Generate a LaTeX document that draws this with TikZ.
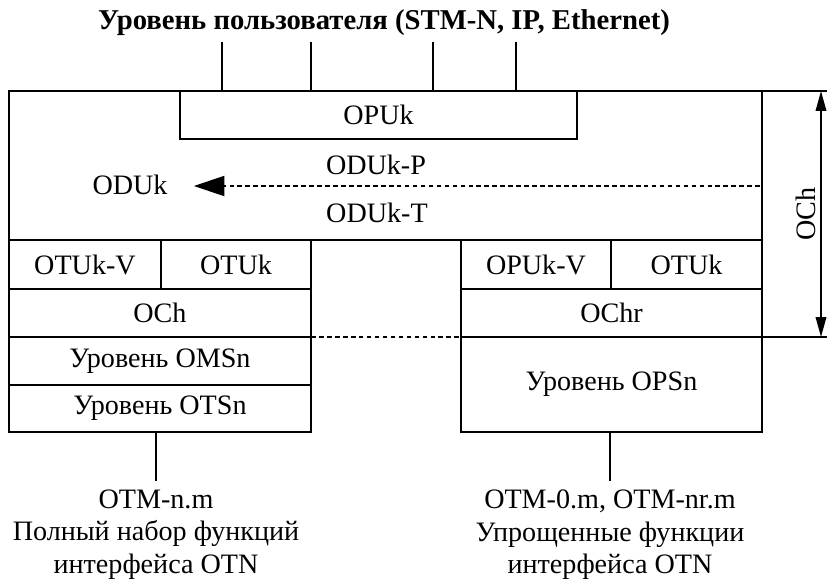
\documentclass[tikz,border=0pt]{standalone}
\usepackage{fontspec}
\setmainfont{Liberation Serif}
\usetikzlibrary{arrows.meta, positioning}
\tikzset{
    cell/.style 2 args={draw, line width=1.8pt, inner sep=0pt, outer sep=0pt, anchor=north west,
        minimum width=#1*0.03cm, minimum height=#2*0.03cm},
    wire/.style={line width=1.8pt},
    dotline/.style={line width=2pt, dash pattern=on 4pt off 2.8pt},
    txt/.style={font=\fontsize{24}{27.5}\selectfont}
}

\begin{document}
\begin{tikzpicture}[x=0.03cm, y=-0.03cm, every node/.style={txt}]
    \useasboundingbox (0,0) rectangle (827,585);
    % title and client ports
    \node[font=\fontsize{24.5}{27.5}\selectfont\bfseries, anchor=base] (user) at (384,29) {Уровень пользователя (STM-N, IP, Ethernet)};
    % upper block
    \node[cell={753}{149}] (oduk) at (9,91) {};
    \node[cell={397}{48}] (opuk) at (180,91) {OPUk};
    \foreach \x in {222,311,433,516}
        \draw[wire, shorten <=2pt] (\x,0 |- user.south) -- (\x,0 |- opuk.north);
    \node[anchor=base] (odukp) at (376,174) {ODUk-P};
    \node[anchor=base] (oduktxt) at (130,194) {ODUk};
    \node[anchor=base] (odukt) at (377,222) {ODUk-T};
    \coordinate (odsrc) at (760,186);
    \draw[dotline, -{Triangle[length=26pt, width=17pt]}, shorten >=19pt] (odsrc) -- (oduktxt.east |- odsrc);
    % left stack
    \node[cell={152}{49}] (otukv) at (9,240) {OTUk-V};
    \node[cell={150}{49}] (otukl) at (161,240) {OTUk};
    \node[cell={302}{48}] (ochl) at (9,289) {OCh};
    \node[cell={302}{48}] (omsn) at (9,337) {Уровень OMSn};
    \node[cell={302}{47}] (otsn) at (9,385) {Уровень OTSn};
    % right stack
    \node[cell={150}{49}] (opukv) at (461,240) {OPUk-V};
    \node[cell={151}{49}] (otukr) at (611,240) {OTUk};
    \node[cell={301}{48}] (ochr) at (461,289) {OChr};
    \node[cell={301}{95}] (opsn) at (461,337) {Уровень OPSn};
    \draw[dotline] (ochl.south east) -- (ochr.south west);
    % OCh span
    \draw[wire] (oduk.north east) -- ++(65,0);
    \draw[wire] (ochr.south east) -- ++(65,0);
    \coordinate (dimtop) at (821,91);
    \coordinate (dimbot) at (821,337);
    \draw[line width=1.4pt, {Triangle[length=17pt, width=9pt]}-{Triangle[length=17pt, width=9pt]}] (dimtop) -- node[midway, rotate=90, anchor=south, inner sep=4pt] (ochdim) {OCh} (dimbot);
    % interfaces
    \node[align=center, anchor=north] (otmn) at (156,486) {OTM-n.m\\Полный набор функций\\интерфейса OTN};
    \node[align=center, anchor=north] (otmr) at (610,486) {OTM-0.m, OTM-nr.m\\Упрощенные функции\\интерфейса OTN};
    \draw[wire, shorten >=4pt] (otsn.south -| otmn.north) -- (otmn.north);
    \draw[wire, shorten >=4pt] (opsn.south -| otmr.north) -- (otmr.north);
\end{tikzpicture}
\end{document}
